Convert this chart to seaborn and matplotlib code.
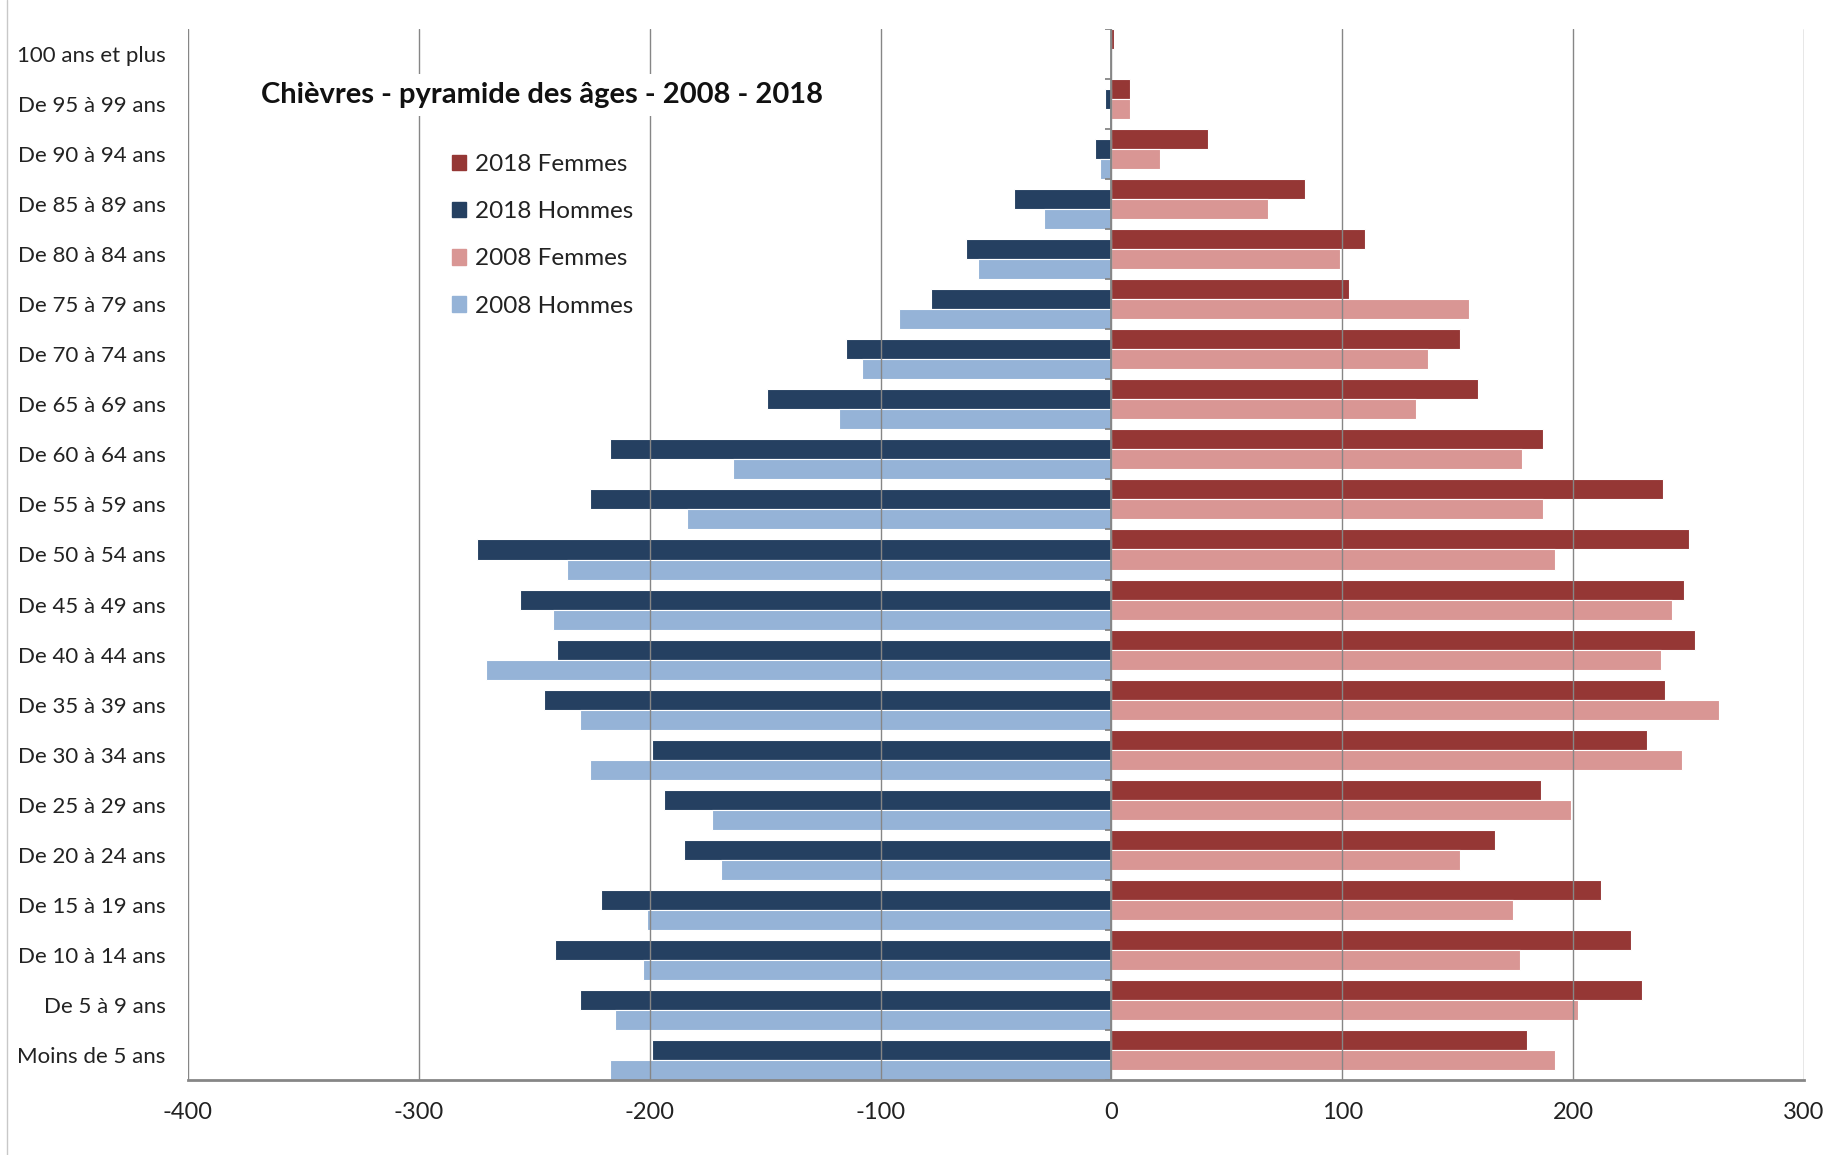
import numpy as np
import matplotlib.pyplot as plt
import seaborn as sns
from matplotlib.patches import Patch
from matplotlib.lines import Line2D

sns.set_style('white')
plt.rcParams['font.family'] = ['Lato', 'DejaVu Sans']
plt.rcParams['axes.unicode_minus'] = False

# tranches d'âge, du haut vers le bas
ages = ['100 ans et plus', 'De 95 à 99 ans', 'De 90 à 94 ans', 'De 85 à 89 ans',
        'De 80 à 84 ans', 'De 75 à 79 ans', 'De 70 à 74 ans', 'De 65 à 69 ans',
        'De 60 à 64 ans', 'De 55 à 59 ans', 'De 50 à 54 ans', 'De 45 à 49 ans',
        'De 40 à 44 ans', 'De 35 à 39 ans', 'De 30 à 34 ans', 'De 25 à 29 ans',
        'De 20 à 24 ans', 'De 15 à 19 ans', 'De 10 à 14 ans', 'De 5 à 9 ans',
        'Moins de 5 ans']
femmes_2018 = [1, 8, 42, 84, 110, 103, 151, 159, 187, 239, 250, 248, 253, 240, 232, 186, 166, 212, 225, 230, 180]
femmes_2008 = [0, 8, 21, 68, 99, 155, 137, 132, 178, 187, 192, 243, 238, 263, 247, 199, 151, 174, 177, 202, 192]
hommes_2018 = [0, -3, -7, -42, -63, -78, -115, -149, -217, -226, -275, -256, -240, -246, -199, -194, -185, -221, -241, -230, -199]
hommes_2008 = [0, -1, -5, -29, -58, -92, -108, -118, -164, -184, -236, -242, -271, -230, -226, -173, -169, -201, -203, -215, -217]
x_ticks = [-400, -300, -200, -100, 0, 100, 200, 300]

c_f18 = '#953735'
c_h18 = '#254061'
c_f08 = '#D99694'
c_h08 = '#95B3D7'
grey = '#868686'

fig = plt.figure(figsize=(18.43, 11.55), dpi=100)
ax = fig.add_axes([188 / 1843, 1 - 1080 / 1155, 1616 / 1843, 1051 / 1155])

pos = np.arange(len(ages))
# femmes un peu plus haut que les hommes (axe secondaire dans l'original)
series = [(femmes_2018, pos - 0.3, c_f18), (femmes_2008, pos + 0.1, c_f08),
          (hommes_2018, pos - 0.1, c_h18), (hommes_2008, pos + 0.3, c_h08)]
for vals, ypos, col in series:
    sns.barplot(x=vals, y=ypos, orient='y', native_scale=True, width=0.4,
                color=col, saturation=1, errorbar=None, edgecolor='white',
                linewidth=0.8, ax=ax)

ax.set_xlim(-400, 300)
ax.set_ylim(len(ages) - 0.5, -0.5)
ax.set_xticks(x_ticks)
ax.set_xticklabels([str(t) for t in x_ticks], fontsize=17, color='#222222')
ax.set_yticks(pos)
ax.set_yticklabels(ages, fontsize=16, color='#222222')
ax.tick_params(axis='y', length=0, pad=16)
ax.tick_params(axis='x', length=8, width=1.3, color=grey, direction='out', pad=8)
ax.set_xlabel('')
ax.set_ylabel('')

ax.grid(axis='x', color=grey, lw=1)
ax.grid(axis='y', visible=False)
ax.set_axisbelow(False)
for s in ['top', 'right', 'left']:
    ax.spines[s].set_visible(False)
ax.spines['bottom'].set_color(grey)
ax.spines['bottom'].set_linewidth(2)

# axe vertical au zéro avec ses petites graduations
ax.axvline(0, color=grey, lw=1.3, zorder=5)
ax.hlines(np.arange(-0.5, len(ages), 1), -3, 0, color=grey, lw=1.3, zorder=5)

fig.text(261 / 1843, 1 - 95 / 1155, 'Chièvres - pyramide des âges - 2008 - 2018',
         fontsize=21, fontweight='bold', ha='left', va='center', color='#111111',
         bbox=dict(facecolor='white', edgecolor='none', pad=6))

handles = [Patch(color=c_f18), Patch(color=c_h18), Patch(color=c_f08), Patch(color=c_h08)]
labels = ['2018 Femmes', '2018 Hommes', '2008 Femmes', '2008 Hommes']
fig.legend(handles, labels, loc='upper left', bbox_to_anchor=(430 / 1843, 1 - 132 / 1155),
           frameon=False, fontsize=17.5, handlelength=0.6, handleheight=0.6,
           handletextpad=0.35, labelspacing=1.08, labelcolor='#222222')

fig.add_artist(Line2D([7 / 1843, 7 / 1843], [0, 1], color='#c8c8c8', lw=1))

plt.savefig('out.png', dpi=100)
plt.close()
